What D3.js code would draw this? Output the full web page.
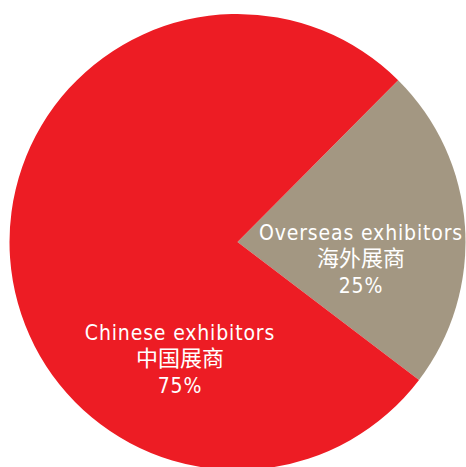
<!DOCTYPE html>
<html>
<head>
<meta charset="utf-8">
<script src="https://cdnjs.cloudflare.com/ajax/libs/d3/7.8.5/d3.min.js"></script>
<style>
  body { margin: 0; background: #fff; }
</style>
</head>
<body>
<div id="pie"></div>
<script>
// slice data (label text as printed, share as drawn)
var names = ["Overseas exhibitors", "Chinese exhibitors"];
var namesZh = ["海外展商", "中国展商"];
var pctLabels = ["25%", "75%"];
var shares = [22.9, 77.1];
var colors = ["#a39782", "#ed1c24"];

var width = 466, height = 467;
var cx = 237.5, cy = 242, radius = 228;

var svg = d3.select("#pie")
  .append("svg")
  .attr("width", width)
  .attr("height", height)
  .append("g")
  .attr("transform", "translate(" + cx + "," + cy + ")");

var data = names.map(function(n, i) {
  return {name: n, zh: namesZh[i], pct: pctLabels[i], value: shares[i], color: colors[i]};
});

// overseas slice starts at about 45deg from 12 o'clock
var pie = d3.pie()
  .sort(null)
  .value(function(d) { return d.value; })
  .startAngle(44.8 * Math.PI / 180)
  .endAngle(44.8 * Math.PI / 180 + 2 * Math.PI);

var arc = d3.arc().innerRadius(0).outerRadius(radius);

var arcs = pie(data);

svg.selectAll("path")
  .data(arcs)
  .enter()
  .append("path")
  .attr("d", arc)
  .attr("fill", function(d) { return d.data.color; });

// label anchors, offset from the pie centre
var labelPos = [[123.5, 24], [-57.5, 124]];

var groups = svg.selectAll("g.label")
  .data(arcs)
  .enter()
  .append("g")
  .attr("class", "label")
  .attr("text-anchor", "middle")
  .attr("fill", "#fff")
  .attr("transform", function(d, i) {
    return "translate(" + labelPos[i][0] + "," + labelPos[i][1] + ")";
  });

var latin = "'Liberation Sans Narrow', 'DejaVu Sans Condensed', sans-serif";

groups.append("text")
  .attr("y", -26)
  .attr("font-family", latin)
  .attr("font-size", "21px")
  .attr("letter-spacing", "0.85px")
  .text(function(d) { return d.data.name; });
groups.append("text")
  .attr("y", 0)
  .attr("font-family", "'Noto Sans CJK SC', sans-serif")
  .attr("font-size", "22px")
  .text(function(d) { return d.data.zh; });
groups.append("text")
  .attr("y", 26.5)
  .attr("font-family", latin)
  .attr("font-size", "21px")
  .attr("letter-spacing", "0.85px")
  .text(function(d) { return d.data.pct; });
</script>
</body>
</html>
